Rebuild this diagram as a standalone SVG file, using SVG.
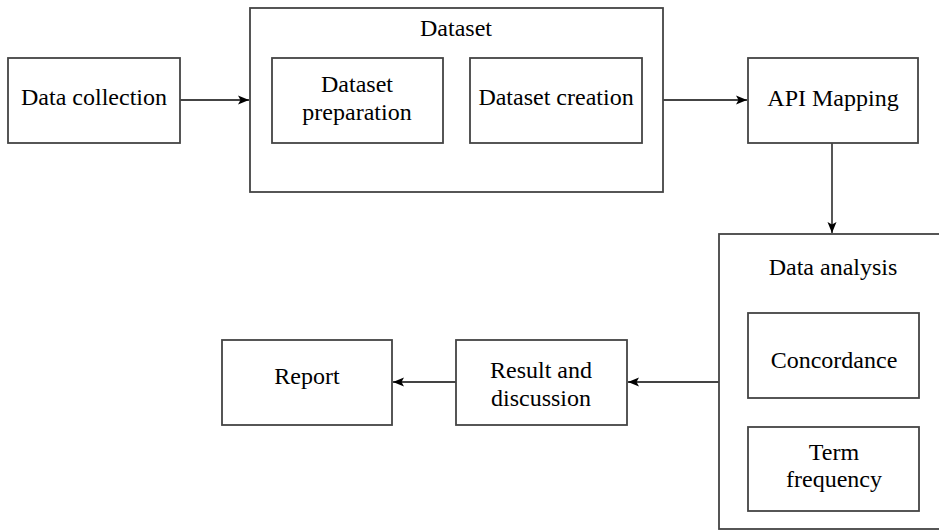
<svg xmlns="http://www.w3.org/2000/svg" width="939" height="531" viewBox="0 0 939 531">
<style>
.box{fill:#fff;stroke:#444;stroke-width:1.8}
.t{font-family:"Liberation Serif","Times New Roman",serif;font-size:24px;fill:#000;text-anchor:middle}
.c{stroke:#444;stroke-width:1.8;fill:none}
</style>
<defs>
<marker id="ah" viewBox="0 0 11 10" refX="11" refY="5" markerWidth="11" markerHeight="10" markerUnits="userSpaceOnUse" orient="auto">
<path d="M0,0.5 L11,5 L0,9.5 L2.5,5 Z" fill="#000"/>
</marker>
</defs>
<rect width="939" height="531" fill="#fff"/>
<g id="data-collection">
<rect class="box" x="8" y="58" width="172" height="85"/>
<text class="t" x="94" y="105">Data collection</text>
</g>
<g id="dataset">
<rect class="box" x="250" y="8" width="413" height="184"/>
<text class="t" x="456" y="36">Dataset</text>
</g>
<g id="dataset-preparation">
<rect class="box" x="272" y="58" width="171" height="85"/>
<text class="t" x="357" y="92">Dataset</text>
<text class="t" x="357" y="120">preparation</text>
</g>
<g id="dataset-creation">
<rect class="box" x="470" y="58" width="172" height="85"/>
<text class="t" x="556" y="105">Dataset creation</text>
</g>
<g id="api-mapping">
<rect class="box" x="748" y="58" width="170" height="85"/>
<text class="t" x="833" y="106">API Mapping</text>
</g>
<g id="data-analysis">
<rect class="box" x="719" y="234" width="230" height="295"/>
<text class="t" x="833" y="275">Data analysis</text>
</g>
<g id="concordance">
<rect class="box" x="748" y="313" width="171" height="85"/>
<text class="t" x="834" y="368">Concordance</text>
</g>
<g id="term-frequency">
<rect class="box" x="748" y="427" width="171" height="84"/>
<text class="t" x="834" y="460">Term</text>
<text class="t" x="834" y="487">frequency</text>
</g>
<g id="result-discussion">
<rect class="box" x="456" y="340" width="171" height="85"/>
<text class="t" x="541" y="378">Result and</text>
<text class="t" x="541" y="406">discussion</text>
</g>
<g id="report">
<rect class="box" x="222" y="340" width="170" height="85"/>
<text class="t" x="307" y="384">Report</text>
</g>
<g id="connectors">
<line class="c" x1="180" y1="100" x2="249" y2="100" marker-end="url(#ah)"/>
<line class="c" x1="663" y1="100" x2="747" y2="100" marker-end="url(#ah)"/>
<line class="c" x1="832" y1="143" x2="832" y2="233" marker-end="url(#ah)"/>
<line class="c" x1="719" y1="382" x2="628" y2="382" marker-end="url(#ah)"/>
<line class="c" x1="456" y1="382" x2="393" y2="382" marker-end="url(#ah)"/>
</g>
</svg>
